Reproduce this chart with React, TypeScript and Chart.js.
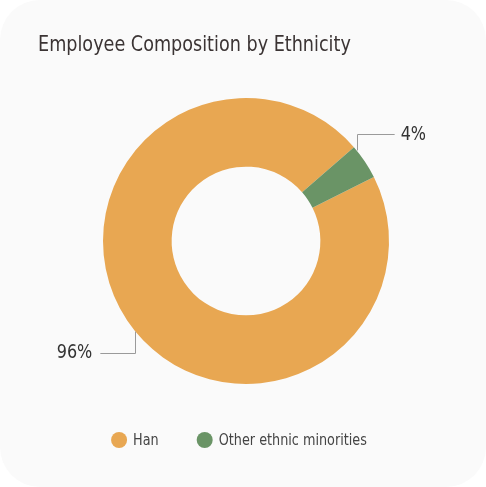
import React, { useEffect, useRef } from "react";
import { Chart, registerables } from "chart.js";

Chart.register(...registerables);

const categories = ["Han", "Other ethnic minorities"];
const shares = [96, 4];
const pctLabels = ["96%", "4%"];
const colors = ["#E8A752", "#6A9466"];
const titleText = "Employee Composition by Ethnicity";

const FAMILY = "'DejaVu Sans Condensed', 'DejaVu Sans', sans-serif";

// draw text with a condensed look: use the condensed face when present, otherwise squeeze horizontally
function drawText(ctx: any, text: string, x: number, y: number, size: number, align: "left" | "right", color: string) {
  ctx.save();
  ctx.font = `${size}px ${FAMILY}`;
  ctx.fontStretch = "normal";
  const wNormal = ctx.measureText(text).width;
  ctx.fontStretch = "condensed";
  const wCond = ctx.measureText(text).width;
  const sx = wCond / wNormal > 0.95 ? 0.89 : 1;
  const w = wCond * sx;
  ctx.fillStyle = color;
  ctx.textBaseline = "middle";
  ctx.textAlign = "left";
  const left = align === "left" ? x : x - w;
  ctx.translate(left, y);
  ctx.scale(sx, 1);
  ctx.fillText(text, 0, 0);
  ctx.restore();
  return w;
}

function measure(ctx: any, text: string, size: number) {
  ctx.save();
  ctx.font = `${size}px ${FAMILY}`;
  ctx.fontStretch = "normal";
  const wNormal = ctx.measureText(text).width;
  ctx.fontStretch = "condensed";
  const wCond = ctx.measureText(text).width;
  ctx.restore();
  const sx = wCond / wNormal > 0.95 ? 0.89 : 1;
  return wCond * sx;
}

const textPlugin = {
  id: "cardText",
  afterDraw(chart: any) {
    const ctx = chart.ctx;
    const area = chart.chartArea;
    // title
    drawText(ctx, titleText, area.left, 45, 22, "left", "#3b3434");

    // legend
    const r = 8;
    const gapText = 6;
    const gapItem = 38;
    const widths = categories.map((c) => measure(ctx, c, 16));
    let total = 0;
    widths.forEach((w, i) => {
      total += 2 * r + gapText + w + (i < widths.length - 1 ? gapItem : 0);
    });
    const cx = (area.left + area.right) / 2 - 7;
    let x = cx - total / 2;
    const ly = 440;
    categories.forEach((c, i) => {
      ctx.save();
      ctx.fillStyle = colors[i];
      ctx.beginPath();
      ctx.arc(x + r, ly, r, 0, Math.PI * 2);
      ctx.fill();
      ctx.restore();
      drawText(ctx, c, x + 2 * r + gapText, ly + 0.5, 16, "left", "#444444");
      x += 2 * r + gapText + widths[i] + gapItem;
    });
  },
  afterDatasetsDraw(chart: any) {
    const meta = chart.getDatasetMeta(0);
    const ctx = chart.ctx;
    meta.data.forEach((arc: any, i: number) => {
      const p = arc.getProps(["x", "y", "startAngle", "endAngle", "outerRadius"], true);
      const mid = (p.startAngle + p.endAngle) / 2 - (5.5 * Math.PI) / 180;
      const sx = p.x + Math.cos(mid) * p.outerRadius;
      const sy = p.y + Math.sin(mid) * p.outerRadius;
      const up = Math.sin(mid) < 0;
      const right = Math.cos(mid) > 0;
      const vy = sy + (up ? -16 : 21);
      const hx = sx + (right ? 38 : -35);
      ctx.save();
      ctx.strokeStyle = "#9a9a9a";
      ctx.lineWidth = 1;
      ctx.beginPath();
      ctx.moveTo(Math.round(sx) + 0.5, sy);
      ctx.lineTo(Math.round(sx) + 0.5, Math.round(vy) + 0.5);
      ctx.lineTo(hx, Math.round(vy) + 0.5);
      ctx.stroke();
      ctx.restore();
      drawText(ctx, pctLabels[i], hx + (right ? 6 : -8), vy, 20, right ? "left" : "right", "#333333");
    });
  },
};

export default function App() {
  const ref = useRef<HTMLCanvasElement | null>(null);
  useEffect(() => {
    if (!ref.current) return;
    const chart = new Chart(ref.current, {
      type: "doughnut",
      data: {
        labels: categories,
        datasets: [
          {
            data: shares,
            backgroundColor: colors,
            borderWidth: 0,
            radius: 143,
          } as any,
        ],
      },
      options: {
        responsive: false,
        devicePixelRatio: 1,
        animation: false,
        rotation: 63.4,
        cutout: "52%",
        layout: { padding: { left: 38, right: 32, top: 90, bottom: 95 } },
        plugins: {
          title: { display: false },
          legend: { display: false },
          tooltip: { enabled: false },
        },
      } as any,
      plugins: [textPlugin],
    });
    return () => chart.destroy();
  }, []);
  return (
    <div style={{ position: "absolute", left: 0, top: 0, width: 486, height: 487, background: "#ffffff" }}>
      <div style={{ width: 486, height: 487, background: "#fafafa", borderRadius: 40, overflow: "hidden" }}>
        <canvas
          ref={ref}
          width={486}
          height={487}
          style={{ display: "block" }}
          aria-label={`${titleText}: ${categories.map((c, i) => `${c} ${pctLabels[i]}`).join(", ")}`}
        />
      </div>
    </div>
  );
}
